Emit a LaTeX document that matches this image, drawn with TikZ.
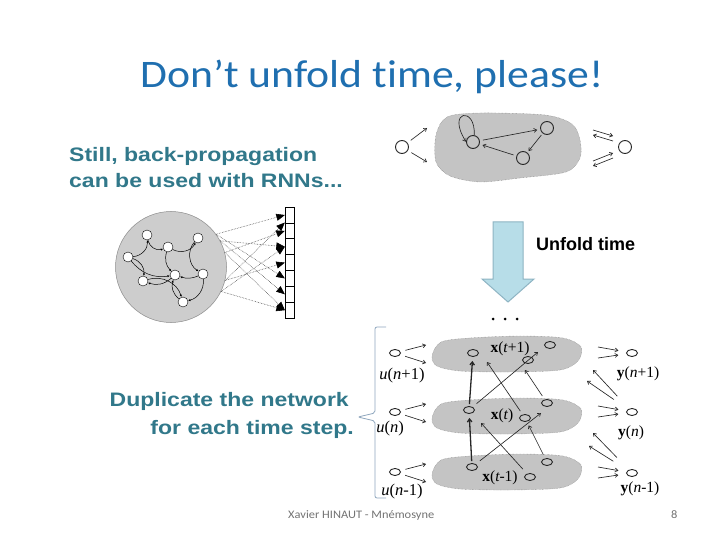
\documentclass[tikz,border=0pt]{standalone}
\usepackage{fontspec}
\setmainfont{Carlito}
\newfontfamily\titlefont[FakeStretch=1.12,Ligatures=NoCommon]{Carlito}
\newfontfamily\footfont[FakeStretch=1.08]{Carlito}
\newfontfamily\arialw[FakeStretch=1.18]{Liberation Sans}
\newfontfamily\arial{Liberation Sans}
\newfontfamily\tnr{Liberation Serif}
\usetikzlibrary{arrows.meta,shapes.geometric}
\definecolor{titleblue}{HTML}{1F6FB0}
\definecolor{tealtext}{HTML}{31788A}
\definecolor{blobgray}{HTML}{C4C4C4}
\definecolor{arrowblue}{HTML}{B7DDE8}
\definecolor{arrowedge}{HTML}{8EB4C3}
\definecolor{bracecol}{HTML}{8FA7BE}
\tikzset{
  sm/.style={draw=black!85, line width=0.65pt, -{Straight Barb[length=2.8pt,width=4pt]}},
  nsm/.style={draw=black, line width=0.5pt, -{Latex[length=2.4pt,width=2.2pt]}},
  thk/.style={draw=black!85, line width=1.3pt, -{Straight Barb[length=3pt,width=4.5pt]}},
  dotarr/.style={draw=black!75, densely dotted, line width=0.55pt, -{Triangle[length=8.5pt,width=7pt,color=black,fill=black,sep=0pt]}},
  net/.style={circle, draw=black, fill=white, minimum size=10pt, inner sep=0pt, line width=0.4pt},
  blob/.style={fill=blobgray, draw=black!55, densely dotted, line width=0.4pt},
  hollow/.style={circle, draw=black!85, line width=0.9pt, minimum size=13pt, inner sep=0pt},
  oval/.style={ellipse, draw=black!85, line width=0.9pt, minimum width=11pt, minimum height=7pt, inner sep=0pt},
  cell/.style={draw=black, line width=0.8pt, minimum width=9.5pt, minimum height=15.86pt, inner sep=0pt},
  xlab/.style={font=\tnr\fontsize{15.5}{15}\selectfont, inner sep=0pt},
  ulab/.style={font=\tnr\fontsize{16.5}{16}\selectfont, inner sep=0pt},
  ylab/.style={font=\tnr\fontsize{15.5}{16}\selectfont, inner sep=0pt},
  tealline/.style={font=\arialw\bfseries\fontsize{19.5}{24}\selectfont, text=tealtext, inner sep=0pt}
}
\begin{document}
\begin{tikzpicture}[x=1pt,y=-1pt]
\useasboundingbox (0,0) rectangle (720,540);
\fill[white] (0,0) rectangle (720,540);

% ---------- texts ----------
\node[anchor=base, font=\titlefont\fontsize{39}{45}\selectfont, text=titleblue, inner sep=0pt] (title) at (372,88) {Don’t unfold time, please!};
\node[tealline, anchor=base west] (still1) at (69,162) {Still, back-propagation};
\node[tealline, anchor=base west] (still2) at (69,188) {can be used with RNNs...};
\node[tealline, anchor=base east] (dup1) at (349,406) {Duplicate the network};
\node[tealline, anchor=base east] (dup2) at (354,434) {for each time step.};
\node[anchor=base west, font=\arial\bfseries\fontsize{18}{20}\selectfont, inner sep=0pt] (unfold) at (536,250) {Unfold time};
\node[anchor=base west, font=\footfont\fontsize{11.5}{12}\selectfont, text=black!55, inner sep=0pt] (foot) at (288,518) {Xavier HINAUT - Mnémosyne};
\node[anchor=base west, font=\footfont\fontsize{11.5}{12}\selectfont, text=black!55, inner sep=0pt] (page) at (671,518) {8};

% ---------- top small recurrent net ----------
\draw[blob] plot[smooth cycle] coordinates {(447,117) (480,113) (545,115) (572,124) (580,140) (580,158) (566,172) (520,178) (480,182) (450,176) (436,162) (436,135)};
\node[hollow] (tin) at (402,147) {};
\node[hollow] (tA) at (473,142) {};
\node[hollow] (tB) at (547,128) {};
\node[hollow] (tC) at (523,158) {};
\node[hollow] (tout) at (625,147) {};
\coordinate (ti1) at (427,128);
\coordinate (ti2) at (427,162);
\draw[sm, shorten <=4pt] (tin) -- (ti1);
\draw[sm, shorten <=4pt] (tin) -- (ti2);
\draw[sm] (tA.80) .. controls (476,106) and (446,110) .. (tA.178);
\draw[sm, shorten <=3pt, shorten >=3pt] (tA) -- (tB);
\draw[sm, shorten <=3pt, shorten >=3pt] (tC) -- (tA);
\draw[sm, shorten <=2pt, shorten >=2pt] (tB) -- (tC);
\coordinate (r1a) at (593,130); \coordinate (r1b) at (613,136);
\coordinate (r1c) at (613,141); \coordinate (r1d) at (593,135);
\coordinate (r2a) at (593,161); \coordinate (r2b) at (613,153);
\coordinate (r2c) at (613,158); \coordinate (r2d) at (593,166);
\draw[sm] (r1a) -- (r1b);
\draw[sm] (r1c) -- (r1d);
\draw[sm] (r2a) -- (r2b);
\draw[sm] (r2c) -- (r2d);

% ---------- left reservoir ----------
\node[circle, minimum size=111pt, inner sep=0pt, fill=blobgray!85, draw=black!45, line width=0.5pt] (bigc) at (171,267) {};
\node[net] (n1) at (147,235) {};
\node[net] (n2) at (168,247) {};
\node[net] (n3) at (198,238) {};
\node[net] (n4) at (128,257) {};
\node[net] (n5) at (175,275) {};
\node[net] (n6) at (203,274) {};
\node[net] (n7) at (143,281) {};
\node[net] (n8) at (183,302) {};
\draw[nsm] (n4) to[bend right=45] (n1);
\draw[nsm] (n1) to[bend right=50] (n2);
\draw[nsm] (n2) to[bend right=45] (n3);
\draw[nsm] (n3) to[bend right=50] (n6);
\draw[nsm] (n6) to[bend left=40] (n8);
\draw[nsm] (n8) to[bend left=35] (n5);
\draw[nsm] (n5) to[bend left=30] (n7);
\draw[nsm] (n7) to[bend left=45] (n8);
\draw[nsm] (n4) to[bend right=30] (n5);
\draw[nsm] (n2) to[bend right=30] (n5);
\draw[nsm] (n4) to[bend left=40] (n7);
\draw[nsm] (n6) to[bend left=20] (n5);

% output column
\foreach \i in {0,...,6} {
  \node[cell] (c\i) at (290,{215+15.86*\i}) {};
}
\draw[dotarr] (bigc.36) -- (c0.west);
\draw[dotarr] (bigc.36) -- (c4.west);
\draw[dotarr] (bigc.28) -- (c2.west);
\draw[dotarr] (bigc.28) -- (c5.west);
\draw[dotarr] (bigc.15) -- (c1.west);
\draw[dotarr] (bigc.15) -- (c6.west);
\draw[dotarr] (bigc.-14) -- (c3.west);
\draw[dotarr] (bigc.-14) -- (c1.north west);
\draw[dotarr] (bigc.-26) -- (c2.west);
\draw[dotarr] (bigc.-26) -- (c6.west);

% ---------- unfold arrow ----------
\draw[fill=arrowblue, draw=arrowedge, line width=1pt] (493,222) -- (523,222) -- (523,279) -- (534,279) -- (508,302) -- (482,279) -- (493,279) -- cycle;
\fill (493,319) circle (1.5pt);
\fill (505,319) circle (1.5pt);
\fill (517,319) circle (1.5pt);

% ---------- unfolded network ----------
\foreach \s in {0,62,118} {
  \begin{scope}[yshift=-\s pt]
  \draw[blob] plot[smooth cycle] coordinates {(441,342) (470,338) (520,336) (563,338) (581,347) (578,361) (560,370) (510,372) (460,371) (437,366) (432,356)};
  \end{scope}
}
\node[oval] (tx1) at (473,353) {};
\node[oval] (tx2) at (550,345) {};
\node[oval] (tx3) at (528,360) {};
\node[oval] (mx1) at (469,410) {};
\node[oval] (mx2) at (547,403) {};
\node[oval] (mx3) at (525,418) {};
\node[oval] (bx1) at (472,467) {};
\node[oval] (bx2) at (547,462) {};
\node[oval] (bx3) at (530,477) {};
\node[xlab] (lx1) at (510,349) {{\bfseries x}({\itshape t}+1)};
\node[xlab] (lx2) at (502,416) {{\bfseries x}({\itshape t})};
\node[xlab] (lx3) at (500,478) {{\bfseries x}({\itshape t}-1)};

\draw[thk, shorten <=2pt, shorten >=4pt] (bx1) -- (mx1);
\draw[thk, shorten <=2pt, shorten >=4pt] (mx1) -- (tx1);
\coordinate (h1) at (487,362);
\coordinate (h2) at (525,370);
\coordinate (h3) at (541,413);
\coordinate (h4) at (481,423);
\coordinate (h5) at (538,352);
\draw[sm, shorten <=5pt] (mx1) -- (h5);
\draw[sm, shorten <=4pt] (mx3) -- (h1);
\draw[sm, shorten <=4pt] (mx2) -- (h2);
\draw[sm, shorten <=5pt] (bx1) -- (h3);
\draw[sm, shorten <=6pt] (bx3) -- (h4);
\draw[sm, shorten <=4pt, shorten >=4pt] (bx2) -- (mx3);

% inputs
\foreach \k/\y in {1/353,2/412,3/472} {
  \node[oval] (ui\k) at (395,\y) {};
  \coordinate (ua\k) at (426,{\y-8});
  \coordinate (ub\k) at (426,{\y+10});
  \draw[sm, shorten <=5pt] (ui\k) -- (ua\k);
  \draw[sm, shorten <=5pt] (ui\k) -- (ub\k);
}
\node[ulab] (lu1) at (402,376) {{\itshape u}({\itshape n}+1)};
\node[ulab] (lu2) at (390,429) {{\itshape u}({\itshape n})};
\node[ulab] (lu3) at (402,492) {{\itshape u}({\itshape n}-1)};

% outputs
\foreach \k/\y in {1/353,2/412,3/473} {
  \node[oval] (yo\k) at (632,\y) {};
  \coordinate (ya\k) at (598,{\y-6});
  \coordinate (yb\k) at (598,{\y+5});
  \draw[sm, shorten >=8pt] (ya\k) -- (yo\k);
  \draw[sm, shorten >=8pt] (yb\k) -- (yo\k);
}
\node[ylab] (ly1) at (638,374) {{\bfseries y}({\itshape n}+1)};
\node[ylab] (ly2) at (631,433) {{\bfseries y}({\itshape n})};
\node[ylab] (ly3) at (640,489) {{\bfseries y}({\itshape n}-1)};
\coordinate (yu1) at (593,370);
\coordinate (yu2) at (587,381);
\coordinate (yu3) at (593,433);
\coordinate (yu4) at (589,446);
\draw[sm, shorten <=17pt] (yo2) -- (yu1);
\draw[sm, shorten <=17pt] (yo2) -- (yu2);
\draw[sm, shorten <=17pt] (yo3) -- (yu3);
\draw[sm, shorten <=17pt] (yo3) -- (yu4);

% brace
\draw[bracecol, line width=0.8pt, rounded corners=2pt] (386,327) -- (375,327) -- (375,413) -- (358,417) -- (375,421) -- (375,498) -- (386,498);
\end{tikzpicture}
\end{document}
